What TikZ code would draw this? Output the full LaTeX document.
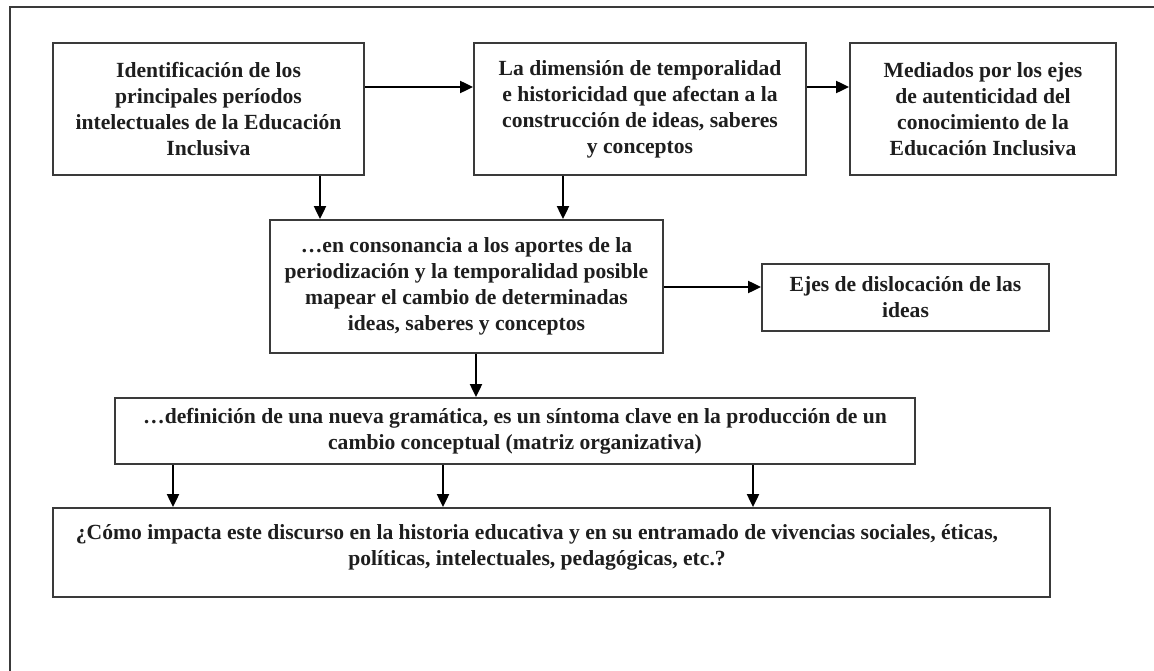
\documentclass[tikz,border=0pt]{standalone}
\usepackage{fontspec}
\setmainfont{Liberation Serif}
\usetikzlibrary{arrows.meta}
\definecolor{ink}{HTML}{1E1E1E}
\definecolor{frame}{HTML}{3A3A3A}
\tikzset{
  box/.style={draw=frame, line width=1.8pt, fill=none, inner sep=0pt, align=center,
    font=\fontsize{21.6}{26}\selectfont\bfseries, text=ink},
  txt/.style={inner sep=0pt, align=center, font=\fontsize{21.6}{26}\selectfont\bfseries, text=ink},
  arr/.style={draw=black, line width=2pt, -{Triangle[length=13pt,width=12pt]}},
}
\begin{document}
\begin{tikzpicture}[x=1pt,y=-1pt]
\useasboundingbox (0,0) rectangle (1154,671);
% outer frame
\draw[frame, line width=1.5pt] (10,690) -- (10,7) -- (1165,7);

\node[box, minimum width=311pt, minimum height=132pt] (b1) at (208.5,109)
  {Identificación de los\\principales períodos\\intelectuales de la Educación\\Inclusiva};
\node[box, minimum width=332pt, minimum height=132pt] (b2) at (640,109)
  {La dimensión de temporalidad\\e historicidad que afectan a la\\construcción de ideas, saberes\\y conceptos};
\node[box, minimum width=266pt, minimum height=132pt] (b3) at (983,109)
  {Mediados por los ejes\\de autenticidad del\\conocimiento de la\\Educación Inclusiva};
\node[box, minimum width=393pt, minimum height=133pt] (b4) at (466.5,286.5)
  {…en consonancia a los aportes de la\\periodización y la temporalidad posible\\mapear el cambio de determinadas\\ideas, saberes y conceptos};
\node[box, minimum width=287pt, minimum height=67pt] (b5) at (905.5,297.5)
  {Ejes de dislocación de las\\ideas};
\node[box, minimum width=800pt, minimum height=66pt] (b6) at (515,431)
  {…definición de una nueva gramática, es un síntoma clave en la producción de un\\cambio conceptual (matriz organizativa)};
\node[box, minimum width=997pt, minimum height=89pt] (b7) at (551.5,552.5) {};
\node[txt] (t7) at (537,547)
  {¿Cómo impacta este discurso en la historia educativa y en su entramado de vivencias sociales, éticas,\\políticas, intelectuales, pedagógicas, etc.?};

\coordinate (a12) at (b1.east |- 0,87);
\draw[arr] (a12) -- (a12 -| b2.west);
\coordinate (a23) at (b2.east |- 0,87);
\draw[arr] (a23) -- (a23 -| b3.west);
\draw[arr] (b1.south -| 320,0) -- (b4.north -| 320,0);
\draw[arr] (b2.south -| 563,0) -- (b4.north -| 563,0);
\coordinate (a45) at (b4.east |- 0,287);
\draw[arr] (a45) -- (a45 -| b5.west);
\draw[arr] (b4.south -| 476,0) -- (b6.north -| 476,0);
\draw[arr] (b6.south -| 173,0) -- (b7.north -| 173,0);
\draw[arr] (b6.south -| 443,0) -- (b7.north -| 443,0);
\draw[arr] (b6.south -| 753,0) -- (b7.north -| 753,0);
\end{tikzpicture}
\end{document}
